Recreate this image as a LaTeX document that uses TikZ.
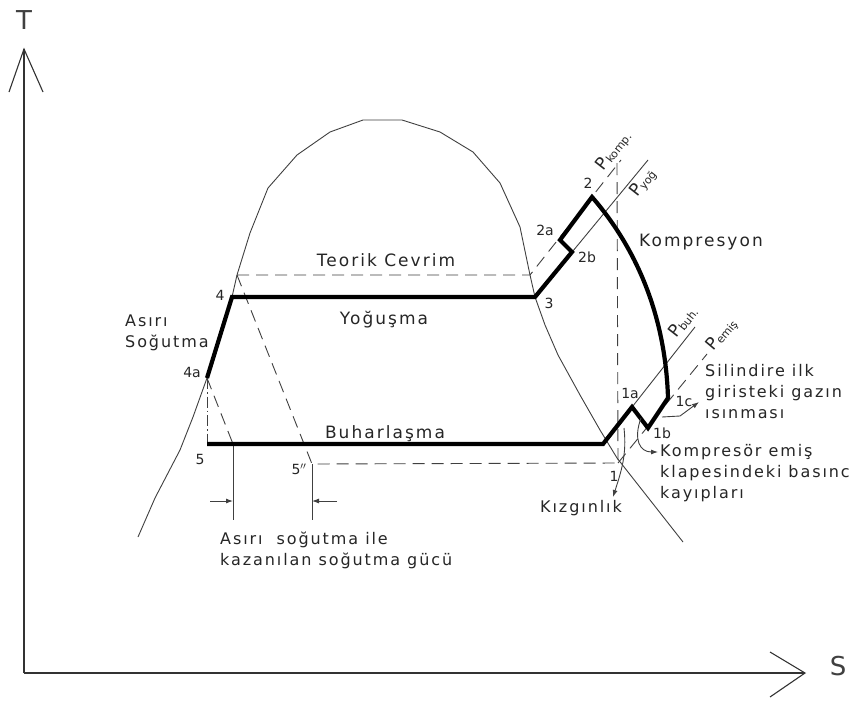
\documentclass[tikz,border=0pt]{standalone}
\usepackage{fontspec}
\setmainfont{DejaVu Sans}
\newfontfamily\cadfont[LetterSpace=12]{DejaVu Sans}
\usetikzlibrary{arrows.meta}
\begin{document}
\begin{tikzpicture}[x=1pt,y=-1pt,
  thinln/.style={line width=0.9pt, black!75},
  axisln/.style={line width=1.1pt, black!80},
  thickln/.style={line width=4.2pt, line join=miter, black},
  dashln/.style={line width=0.9pt, black!75, dash pattern=on 12pt off 7pt},
  dotdash/.style={line width=0.9pt, black!75, dash pattern=on 11pt off 3pt on 1.5pt off 3pt},
  lbl/.style={font=\cadfont\fontsize{16}{21}\selectfont, text=black!85, inner sep=0pt},
  biglbl/.style={font=\cadfont\fontsize{17}{21}\selectfont, text=black!85, inner sep=0pt},
  ptlbl/.style={font=\fontsize{14}{16}\selectfont, text=black!85, inner sep=0pt},
  plbl/.style={font=\fontsize{17}{17}\selectfont, text=black!85, inner sep=0pt},
  arr/.style={thinln, -{Latex[length=7pt,width=5pt]}},
]
\useasboundingbox (0,0) rectangle (861,701);
\fill[white] (0,0) rectangle (861,701);

% points
\coordinate (o) at (24,673);
\coordinate (ttip) at (24,49);
\coordinate (stip) at (805,673);
\coordinate (p4a) at (207,378);
\coordinate (p4) at (232,297);
\coordinate (p3) at (535,297);
\coordinate (p2b) at (572,252);
\coordinate (p2a) at (560,240);
\coordinate (p2) at (592,197);
\coordinate (p1c) at (668,398);
\coordinate (p1b) at (648,428);
\coordinate (p1a) at (632,407);
\coordinate (p1p) at (603,444);
\coordinate (p5) at (207,444);
\coordinate (p1) at (618,463);
\coordinate (p5pp) at (312,464);
\coordinate (tc4) at (237,275);
\coordinate (tc3) at (530,275);
\coordinate (pkend) at (621,160);
\coordinate (pyend) at (648,160);
\coordinate (pbend) at (695,327);
\coordinate (peend) at (707,354);
\coordinate (vtop) at (617,163);
\coordinate (da) at (233,444);
\coordinate (dab) at (233,520);
\coordinate (db) at (312,520);

% axes
\draw[axisln] (o) -- (ttip);
\draw[axisln] (9,92) -- (ttip) -- (43,92);
\draw[axisln] (o) -- (stip);
\draw[axisln] (770,652) -- (stip) -- (770,697);
\node[font=\fontsize{26}{26}\selectfont, text=black!75, inner sep=0pt] (T) at (24,20) {T};
\node[font=\fontsize{26}{26}\selectfont, text=black!75, inner sep=0pt] (S) at (838,666) {S};

% saturation dome
\draw[thinln, line join=round] (138,537) -- (155,498) -- (180,450) -- (193,417) -- (207,378) -- (220,335) -- (232,297) -- (237,275)
  -- (250,233) -- (268,188) -- (297,155) -- (330,132) -- (363,120) -- (402,120) -- (440,132) -- (473,152) -- (500,183)
  -- (520,227) -- (530,275) -- (535,297) -- (545,325) -- (558,355) -- (580,395) -- (600,430) -- (617,458) -- (650,500) -- (683,542);

% theoretical cycle dashed
\draw[dashln] (tc4) -- (tc3) -- (pkend);
\draw[dashln] (tc4) -- (p5pp) -- (p1);
\draw[dashln] (vtop) -- (p1);
\draw[dashln] (p1) -- (peend);
\draw[dashln] (p4a) -- (da);
\draw[dotdash] (p4a) -- (p5);

% pressure lines
\draw[thinln] (p3) -- (pyend);
\draw[thinln] (p1p) -- (pbend);

% dimension lines
\draw[thinln] (da) -- (dab);
\draw[thinln] (p5pp) -- (db);
\coordinate (dal) at (210,501);
\coordinate (dar) at (233,501);
\coordinate (dbr) at (337,501);
\coordinate (dbl) at (312,501);
\draw[arr] (dal) -- (dar);
\draw[arr] (dbr) -- (dbl);

% real cycle
\draw[thickln] (p4a) -- (p4) -- (p3) -- (p2b) -- (p2a) -- (p2)
  .. controls (625,235) and (665,300) .. (p1c) -- (p1b) -- (p1a) -- (p1p) -- (p5);

% pointer arrows
\coordinate (kzs) at (624,428);
\coordinate (kze) at (613,497);
\draw[arr] (kzs) .. controls (627,455) and (621,472) .. (kze);
\coordinate (kes) at (641,418);
\coordinate (kee) at (658,452);
\draw[arr] (kes) .. controls (633,440) and (640,452) .. (kee);
\coordinate (sis) at (662,417);
\coordinate (sie) at (699,402);
\draw[arr] (sis) -- (680,416) -- (sie);

% point labels
\node[ptlbl] (l2) at (588,183) {2};
\node[ptlbl] (l2a) at (545,230) {2a};
\node[ptlbl] (l2b) at (587,257) {2b};
\node[ptlbl] (l3) at (549,303) {3};
\node[ptlbl] (l4) at (220,295) {4};
\node[ptlbl] (l4a) at (192,372) {4a};
\node[ptlbl] (l5) at (200,459) {5};
\node[ptlbl] (l5pp) at (299,469) {5$''$};
\node[ptlbl] (l1) at (614,476) {1};
\node[ptlbl] (l1a) at (630,393) {1a};
\node[ptlbl] (l1b) at (662,433) {1b};
\node[ptlbl] (l1c) at (684,401) {1c};

% pressure labels
\node[plbl, rotate=52] (lpk) at (614,151) {P\raisebox{-1.5pt}{\fontsize{11}{11}\selectfont komp.}};
\node[plbl, rotate=52] (lpy) at (643,183) {P\raisebox{-1.5pt}{\fontsize{11}{11}\selectfont yoğ}};
\node[plbl, rotate=52] (lpb) at (683,322) {P\raisebox{-1.5pt}{\fontsize{11}{11}\selectfont buh.}};
\node[plbl, rotate=50] (lpe) at (722,335) {P\raisebox{-1.5pt}{\fontsize{11}{11}\selectfont emiş}};

% text labels
\node[biglbl] (teo) at (386,260) {Teorik Cevrim};
\node[biglbl] (yog) at (384,320) {Yoğuşma};
\node[biglbl] (buh) at (385,434) {Buharlaşma};
\node[biglbl] (komp) at (701,242) {Kompresyon};
\node[lbl, align=left, anchor=west] (asiri) at (125,333) {Asırı\\Soğutma};
\node[lbl, align=left, anchor=west] (sil) at (705,392) {Silindire ilk\\giristeki gazın\\ısınması};
\node[lbl, align=left, anchor=west] (kem) at (660,473) {Kompresör emiş\\klapesindeki basınc\\kayıpları};
\node[lbl] (kiz) at (581,508) {Kızgınlık};
\node[lbl, align=left, anchor=west] (kaz) at (220,550) {Asırı\ \ soğutma ile\\kazanılan soğutma gücü};
\end{tikzpicture}
\end{document}
